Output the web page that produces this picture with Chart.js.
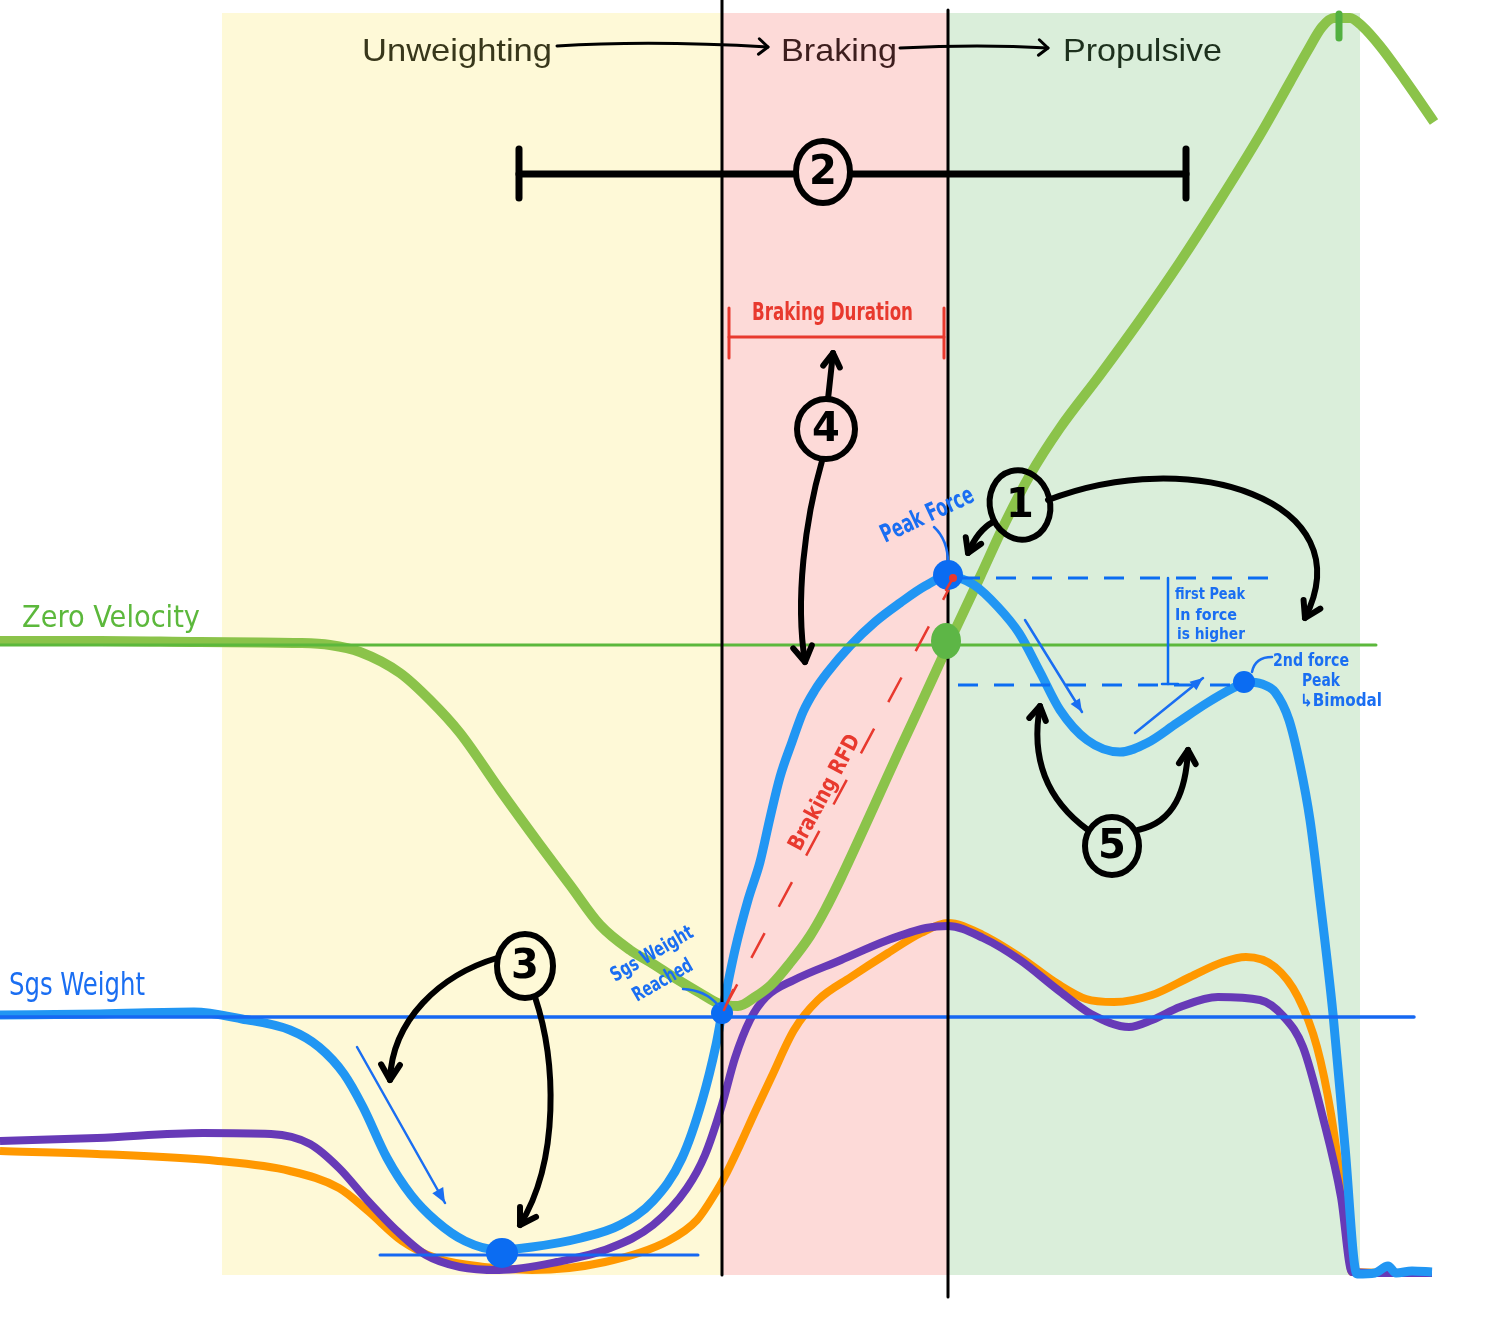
<!DOCTYPE html>
<html><head><meta charset="utf-8">
<script src="https://cdn.jsdelivr.net/npm/chart.js@4.4.1/dist/chart.umd.min.js"></script>
<style>html,body{margin:0;padding:0;background:#fff}canvas{display:block}</style>
</head><body>
<canvas id="c" width="1494" height="1320"></canvas>
<script>
// ---------------- DATA (time on x, drawing-units on y; y grows downward) ----------------
const phaseNames = ['Unweighting', 'Braking', 'Propulsive'];
const phaseStart = [222, 722, 948];
const phaseEnd = [722, 948, 1360];
const phaseTop = 13, phaseBottom = 1275;
const zeroVelocityLevel = 645;
const systemWeightLevel = 1017;

const velocityCurve = [[0,641],[100,641],[200,642],[300,643],[330,645],[360,652],[400,673],[430,700],[460,733],[500,790],[540,845],[570,885],[600,925],[630,950],[650,962],[675,978],[700,993],[720,1004],[738,1006],[755,997],[771,985],[790,963],[810,936],[825,910],[840,880],[860,837],[880,793],[900,749],[920,706],[948,645],[980,577],[1005,523],[1030,475],[1060,428],[1100,375],[1140,320],[1180,262],[1220,200],[1260,135],[1290,82],[1308,50],[1322,27],[1334,18],[1350,18],[1362,26],[1380,46],[1405,80],[1434,122]];

const totalForce = [[0,1015],[100,1014],[194,1012],[242,1019],[290,1030],[319,1047],[344,1074],[363,1107],[387,1158],[411,1195],[436,1221],[465,1241],[499,1250],[532,1247],[581,1238],[620,1225],[653,1201],[682,1158],[702,1101],[716,1045],[722,1013],[735,950],[748,900],[760,862],[770,818],[780,777],[792,742],[803,712],[815,690],[827,673],[850,646],[875,622],[900,603],[925,586],[948,576],[974,585],[998,607],[1019,633],[1040,672],[1060,710],[1087,740],[1120,752],[1147,743],[1177,723],[1207,703],[1233,688],[1246,682],[1262,684],[1275,692],[1289,720],[1300,765],[1310,820],[1320,900],[1333,1014],[1345,1147],[1357,1274],[1375,1273],[1388,1266],[1396,1273],[1412,1271],[1432,1272]];

const leftLegForce = [[0,1141],[97,1138],[203,1133],[271,1134],[310,1144],[339,1168],[368,1201],[397,1231],[426,1255],[460,1267],[499,1270],[557,1262],[610,1248],[653,1225],[687,1188],[705,1155],[722,1105],[735,1058],[750,1020],[766,997],[794,980],[841,960],[888,940],[926,928],[948,926],[983,938],[1020,960],[1058,990],[1091,1014],[1129,1027],[1152,1020],[1180,1007],[1218,997],[1260,1000],[1284,1017],[1303,1047],[1322,1114],[1341,1197],[1352,1272],[1380,1273],[1432,1273]];

const rightLegForce = [[0,1151],[97,1154],[218,1161],[290,1171],[339,1188],[368,1211],[402,1241],[436,1258],[484,1267],[532,1270],[605,1262],[668,1241],[697,1220],[716,1192],[724,1178],[740,1145],[755,1112],[771,1078],[794,1030],[818,1000],[851,977],[888,953],[921,933],[948,923],[983,935],[1020,957],[1058,984],[1086,999],[1114,1002],[1152,995],[1190,977],[1223,962],[1246,957],[1275,967],[1298,997],[1317,1047],[1331,1114],[1345,1214],[1352,1272],[1432,1273]];

// key events
const sysWeightReached = [722, 1013];
const minimumForce = [502, 1253];
const peakForce = [948, 575];
const secondPeak = [1244, 682];
const zeroVelocityPoint = [946, 641];
const peakVelocity = [1339, 13];
const brakingDuration = [729, 944];
const jumpSpan = [519, 1186];

const numberLabels = ['1', '2', '3', '4', '5'];

// ---------------- STYLE ----------------
const C = {
  yellow: 'rgb(254,249,215)', red: 'rgb(253,218,216)', green: 'rgb(218,238,218)',
  vel: 'rgb(139,195,74)', force: 'rgb(33,150,243)', purple: 'rgb(103,58,183)', orange: 'rgb(255,152,0)',
  sys: '#1668f2', zero: '#5cb83c', dot: '#0b6cf2', hand: '#1a6ef2', redInk: '#e8392e', ink: '#000'
};
const HAND = "'Liberation Sans Narrow','DejaVu Sans Condensed','Liberation Sans',sans-serif";
const SANS = "'Liberation Sans', Arial, Helvetica, sans-serif";
const VELOCITY_INDEX = 1;

const toXY = a => a.map(p => ({x: p[0], y: p[1]}));

let X, Y;
function txt(ctx, s, x, y, o) {
  ctx.save();
  ctx.translate(X(x), Y(y));
  ctx.rotate((o.angle || 0) * Math.PI / 180);
  ctx.font = `${o.weight || 'normal'} ${o.size}px ${o.font || HAND}`;
  const m = ctx.measureText(s).width;
  if (o.w) ctx.scale(o.w / m, 1);
  ctx.fillStyle = o.color;
  ctx.textBaseline = 'alphabetic';
  ctx.fillText(s, 0, 0);
  ctx.restore();
}
function path(ctx, pts) {
  const p = pts.map(q => [X(q[0]), Y(q[1])]);
  ctx.beginPath();
  ctx.moveTo(p[0][0], p[0][1]);
  if (p.length === 2) ctx.lineTo(p[1][0], p[1][1]);
  else if (p.length === 3) ctx.quadraticCurveTo(p[1][0], p[1][1], p[2][0], p[2][1]);
  else ctx.bezierCurveTo(p[1][0], p[1][1], p[2][0], p[2][1], p[3][0], p[3][1]);
  return p;
}
function arrow(ctx, pts, o) {
  ctx.save();
  ctx.strokeStyle = o.color; ctx.fillStyle = o.color;
  ctx.lineWidth = o.width; ctx.lineCap = 'round'; ctx.lineJoin = 'round';
  const p = path(ctx, pts);
  ctx.stroke();
  const e = p[p.length - 1], b = p[p.length - 2];
  const a = Math.atan2(e[1] - b[1], e[0] - b[0]);
  const h = o.head, s = o.spread || 0.55;
  ctx.beginPath();
  ctx.moveTo(e[0] - h * Math.cos(a - s), e[1] - h * Math.sin(a - s));
  ctx.lineTo(e[0], e[1]);
  ctx.lineTo(e[0] - h * Math.cos(a + s), e[1] - h * Math.sin(a + s));
  if (o.filled) { ctx.closePath(); ctx.fill(); } else ctx.stroke();
  ctx.restore();
}
function line(ctx, pts, color, width, dash) {
  ctx.save();
  ctx.strokeStyle = color; ctx.lineWidth = width; ctx.lineCap = dash ? 'butt' : 'round';
  if (dash) ctx.setLineDash(dash);
  path(ctx, pts); ctx.stroke();
  ctx.restore();
}
function dot(ctx, p, r, color, ry) {
  ctx.save(); ctx.fillStyle = color; ctx.beginPath();
  ctx.ellipse(X(p[0]), Y(p[1]), r, ry || r, 0, 0, Math.PI * 2); ctx.fill(); ctx.restore();
}
function numCircle(ctx, label, cx, cy, rx, ry, rot) {
  ctx.save();
  ctx.strokeStyle = C.ink; ctx.lineWidth = 6;
  ctx.beginPath(); ctx.ellipse(X(cx), Y(cy), rx, ry, (rot || 0) * Math.PI / 180, 0, Math.PI * 2); ctx.stroke();
  ctx.fillStyle = C.ink; ctx.font = `bold 40px 'DejaVu Sans', sans-serif`;
  ctx.textAlign = 'center'; ctx.textBaseline = 'middle';
  ctx.fillText(label, X(cx), Y(cy) + 2);
  ctx.restore();
}

const annotate = {
  id: 'annotate',
  beforeDatasetsDraw(chart) {
    const ctx = chart.ctx;
    X = v => chart.scales.x.getPixelForValue(v);
    Y = v => chart.scales.y.getPixelForValue(v);
    const cols = [C.yellow, C.red, C.green];
    phaseStart.forEach((s, i) => {
      ctx.fillStyle = cols[i];
      ctx.fillRect(X(s), Y(phaseTop), X(phaseEnd[i]) - X(s), Y(phaseBottom) - Y(phaseTop));
    });
  },
  beforeDatasetDraw(chart, args) {
    if (args.index !== VELOCITY_INDEX) return;
    const ctx = chart.ctx, a = chart.chartArea;
    ctx.save();
    ctx.beginPath();
    ctx.rect(a.left, Y(phaseTop), a.right - a.left, a.bottom - Y(phaseTop));
    ctx.clip();
  },
  afterDatasetDraw(chart, args) {
    if (args.index !== VELOCITY_INDEX) return;
    chart.ctx.restore();
  },
  afterDatasetsDraw(chart) {
    const ctx = chart.ctx;
    // reference lines
    line(ctx, [[0, zeroVelocityLevel], [1376, zeroVelocityLevel]], C.zero, 3);
    line(ctx, [[0, systemWeightLevel], [1414, systemWeightLevel]], C.sys, 3.5);
    line(ctx, [[380, 1255], [698, 1255]], C.sys, 3);
    // phase boundaries
    line(ctx, [[phaseStart[1], 0], [phaseStart[1], phaseBottom]], C.ink, 3);
    line(ctx, [[phaseStart[2], 10], [phaseStart[2], 1297]], C.ink, 3);

    // phase titles
    txt(ctx, phaseNames[0], 362, 61, {size: 32, font: SANS, w: 190, color: '#38371b'});
    txt(ctx, phaseNames[1], 781, 61, {size: 32, font: SANS, w: 116, color: '#3d1e1e'});
    txt(ctx, phaseNames[2], 1063, 61, {size: 32, font: SANS, w: 159, color: '#1d301d'});
    arrow(ctx, [[557, 46], [650, 40], [768, 47]], {color: C.ink, width: 3, head: 12, spread: 0.7});
    arrow(ctx, [[900, 48], [980, 44], [1048, 48]], {color: C.ink, width: 3, head: 12, spread: 0.7});

    // (2) jump span bracket
    line(ctx, [[jumpSpan[0], 174], [jumpSpan[1], 174]], C.ink, 7);
    line(ctx, [[jumpSpan[0], 149], [jumpSpan[0], 198]], C.ink, 7);
    line(ctx, [[jumpSpan[1], 149], [jumpSpan[1], 198]], C.ink, 7);
    ctx.save(); ctx.fillStyle = 'rgb(253,218,216)';
    ctx.beginPath(); ctx.ellipse(X(823), Y(172), 27, 31, 0, 0, Math.PI * 2); ctx.fill(); ctx.restore();
    numCircle(ctx, numberLabels[1], 823, 172, 27, 31);

    // Braking duration bracket
    line(ctx, [[brakingDuration[0], 337], [brakingDuration[1], 337]], C.redInk, 3);
    line(ctx, [[brakingDuration[0], 308], [brakingDuration[0], 358]], C.redInk, 3);
    line(ctx, [[brakingDuration[1], 308], [brakingDuration[1], 358]], C.redInk, 3);
    txt(ctx, 'Braking Duration', 752, 320, {size: 24, w: 161, color: C.redInk, weight: 'bold'});

    // (4)
    numCircle(ctx, numberLabels[3], 826, 429, 29, 30);
    arrow(ctx, [[828, 399], [833, 353]], {color: C.ink, width: 6, head: 16});
    arrow(ctx, [[822, 461], [805, 520], [795, 600], [805, 662]], {color: C.ink, width: 6, head: 18});

    // Braking RFD dashed line
    line(ctx, [[sysWeightReached[0] + 2, sysWeightReached[1] - 4], [958, 572]], C.redInk, 2.5, [28, 30]);
    txt(ctx, 'Braking RFD', 800, 852, {size: 22, w: 128, color: C.redInk, angle: -61.8, weight: 'bold'});

    // Peak force annotations
    line(ctx, [[960, 578], [1280, 578]], C.dot, 3, [20, 16]);
    line(ctx, [[958, 685], [1240, 685]], C.dot, 3, [20, 16]);
    line(ctx, [[1168, 578], [1168, 684]], C.dot, 2.5);
    line(ctx, [[1162, 684], [1178, 684]], C.dot, 2.5);
    txt(ctx, 'first Peak', 1175, 599, {size: 15, w: 70, color: C.hand, weight: 'bold'});
    txt(ctx, 'In force', 1175, 620, {size: 15, w: 62, color: C.hand, weight: 'bold'});
    txt(ctx, 'is higher', 1177, 639, {size: 15, w: 68, color: C.hand, weight: 'bold'});
    txt(ctx, 'Peak Force', 885, 543, {size: 25, w: 100, color: C.hand, angle: -25, weight: 'bold'});
    line(ctx, [[934, 527], [948, 540], [948, 563]], C.hand, 2.5);

    dot(ctx, zeroVelocityPoint, 15, '#5db646', 18);
    dot(ctx, peakForce, 15, C.dot);
    dot(ctx, [953, 578], 4, C.redInk);
    line(ctx, [[946, 590], [953, 578]], C.redInk, 2.5);

    // (1)
    numCircle(ctx, numberLabels[0], 1020, 505, 30, 35, -15);
    arrow(ctx, [[993, 522], [978, 530], [968, 553]], {color: C.ink, width: 6, head: 16});
    arrow(ctx, [[1048, 500], [1190, 445], [1365, 500], [1305, 618]], {color: C.ink, width: 6, head: 18});

    // second peak
    dot(ctx, secondPeak, 11, C.dot);
    line(ctx, [[1252, 672], [1255, 657], [1272, 657]], C.hand, 2.5);
    txt(ctx, '2nd force', 1273, 666, {size: 17, w: 76, color: C.hand, weight: 'bold'});
    txt(ctx, 'Peak', 1302, 686, {size: 17, w: 38, color: C.hand, weight: 'bold'});
    txt(ctx, '\u21B3Bimodal', 1300, 706, {size: 17, w: 82, color: C.hand, weight: 'bold'});
    arrow(ctx, [[1025, 620], [1082, 712]], {color: C.hand, width: 2.5, head: 14, spread: 0.4, filled: true});
    arrow(ctx, [[1135, 733], [1203, 678]], {color: C.hand, width: 2.5, head: 14, spread: 0.4, filled: true});

    // (5)
    numCircle(ctx, numberLabels[4], 1112, 846, 27, 29);
    arrow(ctx, [[1088, 830], [1040, 795], [1032, 750], [1040, 706]], {color: C.ink, width: 6, head: 16});
    arrow(ctx, [[1138, 830], [1175, 822], [1186, 790], [1188, 750]], {color: C.ink, width: 6, head: 16});

    // Sys weight reached
    dot(ctx, sysWeightReached, 11, C.dot);
    line(ctx, [[724, 1010], [733, 990]], C.redInk, 2.5);
    txt(ctx, 'Sgs Weight', 615, 982, {size: 20, w: 92, color: C.hand, angle: -30, weight: 'bold'});
    txt(ctx, 'Reached', 637, 1002, {size: 20, w: 66, color: C.hand, angle: -30, weight: 'bold'});
    line(ctx, [[683, 989], [705, 990], [718, 1005]], C.hand, 2.5);

    // (3)
    numCircle(ctx, numberLabels[2], 525, 966, 28, 32);
    arrow(ctx, [[497, 958], [440, 975], [392, 1020], [390, 1080]], {color: C.ink, width: 6, head: 18});
    arrow(ctx, [[535, 997], [556, 1060], [560, 1160], [520, 1225]], {color: C.ink, width: 6, head: 18});
    arrow(ctx, [[357, 1047], [445, 1203]], {color: C.hand, width: 2.5, head: 16, spread: 0.4, filled: true});
    dot(ctx, minimumForce, 16, C.dot, 15);

    // left labels
    txt(ctx, 'Zero Velocity', 22, 627, {size: 30, w: 178, color: C.zero});
    txt(ctx, 'Sgs Weight', 9, 995, {size: 32, w: 136, color: C.hand});

    // peak velocity tick
    line(ctx, [[peakVelocity[0], 14], [peakVelocity[0], 38]], '#52b040', 7);
  }
};

const ds = (label, data, color, width, order) => ({
  label, data: toXY(data), borderColor: color, borderWidth: width, pointRadius: 0,
  cubicInterpolationMode: 'monotone', fill: false, order, borderCapStyle: 'butt'
});

new Chart(document.getElementById('c'), {
  type: 'line',
  data: {
    datasets: [
      ds('Total force', totalForce, C.force, 9, 0),
      ds('Velocity', velocityCurve, C.vel, 10, 1),
      ds('Left force', leftLegForce, C.purple, 8, 2),
      ds('Right force', rightLegForce, C.orange, 8, 3)
    ]
  },
  options: {
    responsive: false, animation: false, devicePixelRatio: 1,
    layout: {padding: 0},
    plugins: {legend: {display: false}, tooltip: {enabled: false}},
    scales: {
      x: {type: 'linear', min: 0, max: 1494, display: false},
      y: {type: 'linear', min: 0, max: 1320, reverse: true, display: false}
    }
  },
  plugins: [annotate]
});
</script>
</body></html>
